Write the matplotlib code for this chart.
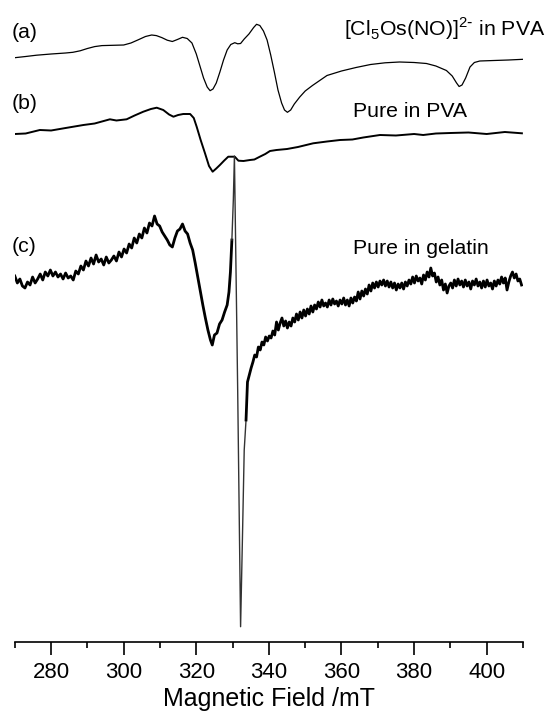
import numpy as np
import matplotlib.pyplot as plt
from matplotlib.ticker import MultipleLocator

plt.rcParams['font.family'] = ['Liberation Sans', 'DejaVu Sans']

# EPR first-derivative traces: field (mT) and signal position (a.u., downward)
field_a = [270, 273, 276, 280, 284, 286, 288, 290, 292, 294, 297, 300, 302, 304,
           306, 307.7, 309, 310.5, 312, 313.4, 314.8, 316.2, 317.5, 318.8, 320,
           321, 322, 323, 323.8, 324.6, 325.5, 326.5, 327.5, 328.5, 329.5, 330.6,
           331.4, 332.2, 333.2, 334.5, 335.8, 336.6, 337.5, 338.5, 339.5, 340.5,
           341.5, 342.5, 343.5, 344.3, 345.1, 346, 347, 348.5, 350, 352, 356,
           360, 364, 368, 372, 376, 380, 383.4, 386, 388.9, 390.5, 391.7, 392.4,
           393.2, 394.2, 395.4, 396.6, 398.1, 402, 406, 410]
sig_a = [57.7, 56.5, 55.2, 54.0, 53.0, 52.3, 50.8, 48.5, 46.6, 45.6, 45.3, 45.0,
         43.0, 39.8, 36.5, 35.0, 35.6, 37.6, 40.2, 41.5, 39.5, 37.3, 38.5, 43,
         54, 66, 78, 87, 90.7, 89, 83, 72, 60, 50, 44.5, 42.7, 43.8, 43.5, 39,
         34, 27.5, 24.3, 25.5, 31, 40, 55, 72, 90, 103, 110, 112.3, 110, 104,
         97, 91, 85.5, 75.5, 71, 67.5, 64.5, 62.8, 62.0, 62.5, 63.5, 66, 70.5,
         76, 83, 86.5, 85, 78, 67, 62.5, 61, 60.5, 60, 59.3]

field_b = [270, 273, 276.9, 280, 284, 288.9, 292, 296.2, 298, 300.8, 303, 305.4,
           307.5, 309.1, 310.9, 312.5, 313.7, 315, 316.4, 318.3, 319.3, 320.1,
           321.2, 322.4, 323.5, 324.5, 325.5, 326.5, 327.7, 328.8, 330.6, 331.6,
           333, 334.8, 336, 337.5, 339, 340.3, 342.1, 345, 348, 352.2, 356,
           359.6, 363, 366, 370.6, 375, 380, 382.5, 386, 390, 395, 400, 405, 409.7]
sig_b = [134, 133.5, 130, 130.5, 128, 125, 123.5, 119.3, 120.5, 119.3, 115.5,
         111.7, 109, 107.7, 110, 114.5, 116.7, 115, 114, 114, 118, 126.7, 140,
         153.3, 166, 171.7, 168.5, 165, 160.5, 156.7, 156.7, 160.7, 161, 160,
         159.5, 156.7, 154, 151, 150, 149, 147, 143.3, 141.5, 140, 139.5, 137.5,
         135, 135.5, 134, 135, 133.5, 133, 132.5, 134, 132, 133.3]

field_c = [270, 270.7, 271.4, 272.1, 272.8, 273.5, 274.2, 274.9, 275.6, 276.3,
           277, 277.7, 278.4, 279.1, 279.8, 280.5, 281.2, 281.9, 282.6, 283.3,
           284, 284.7, 285.4, 286.1, 286.8, 287.5, 288.2, 288.9, 289.6, 290.3,
           291, 291.7, 292.4, 293.1, 293.8, 294.5, 295.2, 295.9, 296.6, 297.3,
           298, 298.7, 299.4, 300.1, 300.8, 301.5, 302.2, 302.9, 303.6, 304.3,
           305, 305.7, 306.4, 307.1, 307.8, 308.5, 309.2, 309.9, 310.6, 311.3,
           312, 312.7, 313.4, 314.1, 314.8, 315.5, 316.2, 316.9, 317.6, 318.3,
           319, 319.7, 320.4, 321.1, 321.8, 322.5, 323.2, 323.9, 324.4, 325,
           325.7, 326.4, 327.1, 327.8, 328.5, 329, 329.4, 329.8, 330.2, 330.5,
           331.4, 332.2, 332.7, 333.2, 333.7, 334.1, 334.6, 335.1, 335.6, 336.1,
           336.6, 337.1, 337.6, 338.1, 338.6, 339.1, 339.6, 340.1, 340.6, 341.1,
           341.6, 342.1, 342.6, 343.1, 343.6, 344.1, 344.6, 345.1, 345.6, 346.1,
           346.6, 347.1, 347.6, 348.1, 348.6, 349.1, 349.6, 350.1, 350.6, 351.1,
           351.6, 352.1, 352.6, 353.1, 353.6, 354.1, 354.6, 355.1, 355.6, 356.1,
           356.6, 357.1, 357.6, 358.1, 358.6, 359.1, 359.6, 360.1, 360.6, 361.1,
           361.6, 362.1, 362.6, 363.1, 363.6, 364.1, 364.6, 365.1, 365.6, 366.1,
           366.6, 367.1, 367.6, 368.1, 368.6, 369.1, 369.6, 370.1, 370.6, 371.1,
           371.6, 372.1, 372.6, 373.1, 373.6, 374.1, 374.6, 375.1, 375.6, 376.1,
           376.6, 377.1, 377.6, 378.1, 378.6, 379.1, 379.6, 380.1, 380.6, 381.1,
           381.6, 382.1, 382.6, 383.1, 383.6, 384.1, 384.6, 385.1, 385.6, 386.1,
           386.6, 387.1, 387.6, 388.1, 388.6, 389.1, 389.6, 390.1, 390.6, 391.1,
           391.6, 392.1, 392.6, 393.1, 393.6, 394.1, 394.6, 395.1, 395.6, 396.1,
           396.6, 397.1, 397.6, 398.1, 398.6, 399.1, 399.6, 400.1, 400.6, 401.1,
           401.6, 402.1, 402.6, 403.1, 403.6, 404.1, 404.6, 405.1, 405.6, 406.1,
           406.6, 407.1, 407.6, 408.1, 408.6, 409.1, 409.6]
sig_c = [276, 283, 279, 286, 288, 282, 285, 277, 283, 279,
         274, 280, 272, 276, 270, 276, 272, 277, 274, 279,
         273, 278, 276, 280, 271, 274, 266, 270, 261, 266,
         258, 264, 255, 262, 259, 265, 257, 263, 260, 256,
         261, 252, 257, 249, 253, 244, 248, 238, 243, 234,
         238, 228, 233, 223, 226, 216, 224, 226, 232, 236,
         240, 245, 247, 238, 231, 229, 224, 231, 234, 243,
         250, 263, 277, 291, 305, 318, 330, 340, 345, 335,
         333, 324, 320, 312, 305, 292, 272, 240, 200, 156,
         390, 626.7, 540, 450, 420, 382, 375, 368, 362, 355,
         357, 347, 350, 342, 345, 337, 341, 336, 338, 331,
         335, 322, 330, 323, 318, 326, 321, 328, 322, 326,
         318, 322, 314, 320, 312, 318, 310, 316, 309, 314,
         306, 312, 305, 309, 302, 307, 300, 306, 303, 307,
         300, 305, 299, 304, 301, 306, 300, 304, 298, 305,
         300, 306, 298, 303, 297, 301, 292, 299, 291, 296,
         289, 294, 285, 291, 283, 288, 282, 287, 281, 285,
         280, 286, 281, 287, 282, 288, 283, 290, 284, 288,
         283, 289, 282, 286, 280, 284, 277, 283, 276, 281,
         278, 284, 275, 280, 272, 277, 268, 276, 273, 282,
         277, 285, 280, 290, 284, 293, 286, 283, 288, 280,
         286, 279, 285, 281, 287, 280, 286, 282, 289, 281,
         285, 279, 286, 282, 288, 281, 287, 280, 286, 283,
         289, 281, 286, 280, 284, 277, 283, 278, 290, 282,
         276, 272, 278, 274, 281, 279, 285]

tick_major = [280, 300, 320, 340, 360, 380, 400]

fig = plt.figure(figsize=(5.53, 7.16), dpi=100)
ax = fig.add_axes([14.8 / 553, (716 - 642.3) / 716, (523 - 14.8) / 553, 642.3 / 716])

ax.plot(field_a, sig_a, color='black', lw=0.9, solid_joinstyle='round')
ax.plot(field_b, sig_b, color='black', lw=1.4, solid_joinstyle='round')

# gelatin trace: thin line through the sharp central line, heavier elsewhere
fc = np.array(field_c)
sc = np.array(sig_c)
spike = (fc >= 329.8) & (fc <= 333.7)
left = fc <= 329.8
right = fc >= 333.7
ax.plot(fc[left], sc[left], color='black', lw=2.0, solid_joinstyle='round')
ax.plot(fc[spike], sc[spike], color='#333333', lw=1.0, solid_joinstyle='round')
ax.plot(fc[right], sc[right], color='black', lw=2.0, solid_joinstyle='round')

ax.set_xlim(270, 410)
ax.set_ylim(642.3, 0)
for s in ['top', 'left', 'right']:
    ax.spines[s].set_visible(False)
ax.spines['bottom'].set_linewidth(1.2)
ax.set_yticks([])
ax.set_xticks(tick_major)
ax.xaxis.set_minor_locator(MultipleLocator(10))
ax.tick_params(axis='x', which='major', direction='out', length=9, width=1.2,
               labelsize=16, pad=5)
ax.tick_params(axis='x', which='minor', direction='out', length=4, width=1.2)
ax.set_xlabel('Magnetic Field /mT', fontsize=18, labelpad=3)

txt = dict(fontsize=15.3, color='black', va='baseline', clip_on=False)
ax.text(269.2, 38, '(a)', ha='left', **txt)
ax.text(269.2, 109, '(b)', ha='left', **txt)
ax.text(269.2, 252, '(c)', ha='left', **txt)
ax.text(360.7, 36,
        r'[Cl$_{\mathregular{5}}$Os(NO)]$^{\mathregular{2}\text{-}}$ in PVA',
        ha='left', **txt)
ax.text(363.3, 117, 'Pure in PVA', ha='left', **txt)
ax.text(363.2, 254, 'Pure in gelatin', ha='left', **txt)

fig.savefig('out.png', dpi=100)
